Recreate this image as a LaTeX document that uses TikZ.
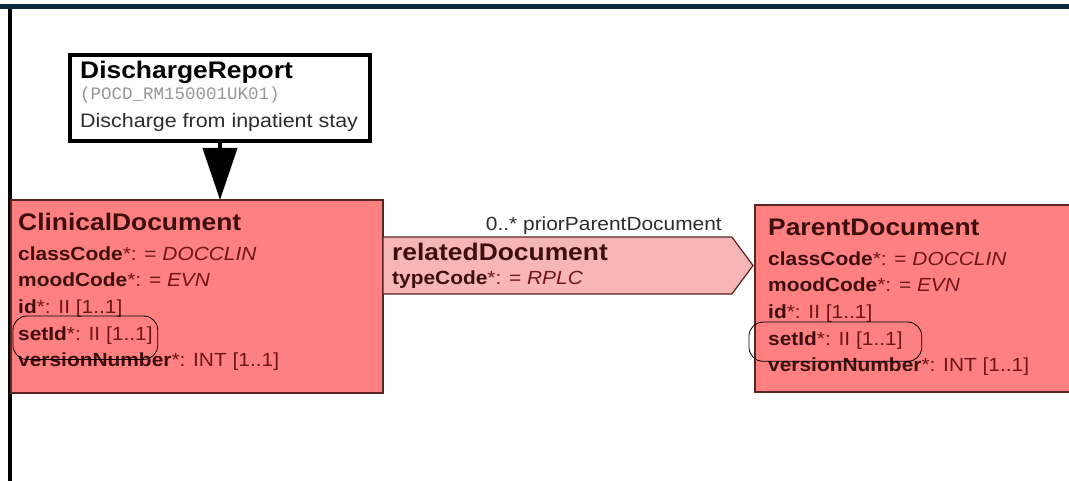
\documentclass[tikz,border=0pt]{standalone}
\usepackage{fontspec}
\setmainfont{Liberation Sans}[FakeStretch=1.1]
\setmonofont{Liberation Mono}
\usepackage{tikz}
\usetikzlibrary{arrows.meta,fit,positioning,shapes.symbols}
\definecolor{framenavy}{RGB}{12,38,64}
\definecolor{classpink}{RGB}{255,128,128}
\definecolor{assocpink}{RGB}{247,182,182}
\definecolor{edgebrown}{RGB}{88,36,36}
\definecolor{inkmaroon}{RGB}{62,14,14}
\definecolor{valuered}{RGB}{112,22,22}
\definecolor{idgrey}{RGB}{150,150,150}
\definecolor{rolegrey}{RGB}{45,45,45}
\tikzset{
  classbox/.style={draw=edgebrown,line width=1.4pt,fill=classpink,
    anchor=north west,inner sep=0pt,outer sep=0pt},
  assocbox/.style={signal,signal to=east,signal pointer angle=107,
    draw=edgebrown,line width=1.2pt,fill=assocpink,inner sep=0pt,outer sep=0pt},
  entrybox/.style={draw=black,line width=4pt,fill=white,
    anchor=north west,inner sep=0pt},
  classname/.style={font=\fontsize{24}{28}\selectfont\bfseries,text=inkmaroon,
    anchor=west,inner sep=0pt,text height=17.2pt,text depth=0pt},
  attrline/.style={font=\fontsize{19}{23}\selectfont,text=inkmaroon,
    inner sep=0pt,text height=13.6pt,text depth=0pt},
  roletext/.style={font=\fontsize{19}{23}\selectfont,text=rolegrey,
    inner sep=0pt,text height=13.6pt,text depth=0pt},
  entrytitle/.style={font=\fontsize{24}{28}\selectfont\bfseries,
    anchor=west,inner sep=0pt,text height=17.2pt,text depth=0pt},
  entrydesc/.style={font=\fontsize{19.5}{23}\selectfont,text=rolegrey,
    inner sep=0pt,text height=14pt,text depth=0pt},
  idtext/.style={font=\fontsize{17.5}{20}\selectfont\ttfamily,text=idgrey,
    inner sep=0pt,text height=11pt,text depth=0pt},
  ring/.style={draw=black,line width=0.8pt,rounded corners=14pt},
  entryflow/.style={-{Triangle[width=34pt,length=52pt]},line width=4pt}
}
\newcommand{\attr}[2]{\textbf{#1}\textcolor{valuered}{*: #2}}

\begin{document}
\begin{tikzpicture}[x=1pt,y=-1pt,node distance=12.6pt]
  \useasboundingbox (0,0) rectangle (1069,481);
  \clip (0,0) rectangle (1069,481);
  % frame
  \draw[framenavy,line width=5pt] (0,6.5) -- (1069,6.5);
  \draw[black,line width=4pt] (9.5,9) -- (9.5,481);
  % boxes
  \node[entrybox,minimum width=300pt,minimum height=86pt] (entry) at (68,53) {};
  \node[classbox,minimum width=372pt,minimum height=193pt] (clin) at (11,200) {};
  \node[classbox,minimum width=330pt,minimum height=187pt] (parent) at (755,205) {};
  \node[assocbox,minimum width=370pt,minimum height=57pt,anchor=west] (rel) at (383,265.5) {};
  % entry point
  \node[entrytitle] (etitle) at (80,70) {DischargeReport};
  \node[idtext,below=9.9pt of etitle.south west,anchor=north west] (eid) {(POCD\_RM150001UK01)};
  \node[entrydesc,below=13.5pt of eid.south west,anchor=north west] (edesc) {Discharge from inpatient stay};
  \draw[entryflow] (entry.south) -- (entry.south |- clin.north);
  % ClinicalDocument
  \node[classname] (cdname) at (18,222) {ClinicalDocument};
  \node[attrline,below=15.6pt of cdname.south west,anchor=north west] (cd1) {\attr{classCode}{= \textit{DOCCLIN}}};
  \node[attrline,below=of cd1.south west,anchor=north west] (cd2) {\attr{moodCode}{= \textit{EVN}}};
  \node[attrline,below=of cd2.south west,anchor=north west] (cd3) {\attr{id}{II [1..1]}};
  \node[attrline,below=of cd3.south west,anchor=north west] (cd4) {\attr{setId}{II [1..1]}};
  \node[attrline,below=of cd4.south west,anchor=north west] (cd5) {\attr{versionNumber}{INT [1..1]}};
  \node[ring,fit=(cd4),inner xsep=5pt,inner ysep=14.7pt,yshift=-4.5pt] (cdring) {};
  % relatedDocument
  \node[classname] (rdname) at (392,252) {relatedDocument};
  \node[attrline,below=9.6pt of rdname.south west,anchor=north west] (rd1) {\attr{typeCode}{= \textit{RPLC}}};
  \node[roletext,anchor=east] (rdrole) at (722,224) {0..* priorParentDocument};
  % ParentDocument
  \node[classname] (pdname) at (768,227) {ParentDocument};
  \node[attrline,below=15.6pt of pdname.south west,anchor=north west] (pd1) {\attr{classCode}{= \textit{DOCCLIN}}};
  \node[attrline,below=of pd1.south west,anchor=north west] (pd2) {\attr{moodCode}{= \textit{EVN}}};
  \node[attrline,below=of pd2.south west,anchor=north west] (pd3) {\attr{id}{II [1..1]}};
  \node[attrline,below=of pd3.south west,anchor=north west] (pd4) {\attr{setId}{II [1..1]}};
  \node[attrline,below=of pd4.south west,anchor=north west] (pd5) {\attr{versionNumber}{INT [1..1]}};
  \node[ring,fit=(pd4),inner xsep=19pt,inner ysep=12.6pt,yshift=-3.5pt] (pdring) {};
\end{tikzpicture}
\end{document}
